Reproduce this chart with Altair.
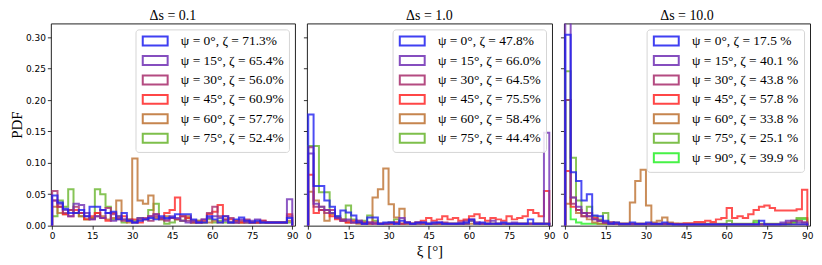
import altair as alt
import pandas as pd

# ---------------- data ----------------
BIN_WIDTH = 2  # degrees per histogram bin, bins from 0 to 90
psi_values = [0, 15, 30, 45, 60, 75, 90]
colors = ["#1f1ff0", "#7030b5", "#a82c6c", "#ff2626", "#bd7030", "#68b52c", "#26f026"]

panel_titles = ["Δs = 0.1", "Δs = 1.0", "Δs = 10.0"]
zeta_p1 = ["71.3%", "65.4%", "56.0%", "60.9%", "57.7%", "52.4%"]
zeta_p2 = ["47.8%", "66.0%", "64.5%", "75.5%", "58.4%", "44.4%"]
zeta_p3 = ["17.5 %", "40.1 %", "43.8 %", "57.8 %", "33.8 %", "25.1 %", "39.9 %"]

x_ticks = [0, 15, 30, 45, 60, 75, 90]
y_ticks = [0.0, 0.05, 0.10, 0.15, 0.20, 0.25, 0.30]

# ---- panel 1 : Δs = 0.1 ----
p1_psi0 = [0.048, 0.037, 0.027, 0.020, 0.020, 0.025, 0.015, 0.030, 0.030, 0.025,
           0.020, 0.022, 0.010, 0.020, 0.008, 0.005, 0.008, 0.010, 0.012, 0.010,
           0.015, 0.012, 0.013, 0.018, 0.018, 0.018, 0.010, 0.005, 0.005, 0.015,
           0.010, 0.005, 0.015, 0.005, 0.010, 0.013, 0.008, 0.005, 0.008, 0.005,
           0.005, 0.005, 0.005, 0.005, 0.012]
p1_psi15 = [0.040, 0.035, 0.025, 0.015, 0.035, 0.033, 0.020, 0.010, 0.015, 0.012,
            0.020, 0.008, 0.015, 0.010, 0.008, 0.005, 0.012, 0.010, 0.015, 0.018,
            0.012, 0.010, 0.015, 0.012, 0.008, 0.005, 0.008, 0.005, 0.010, 0.012,
            0.015, 0.012, 0.008, 0.005, 0.005, 0.010, 0.005, 0.008, 0.010, 0.005,
            0.005, 0.005, 0.005, 0.005, 0.042]
p1_psi30 = [0.055, 0.030, 0.020, 0.025, 0.030, 0.020, 0.015, 0.010, 0.015, 0.025,
            0.028, 0.018, 0.012, 0.008, 0.010, 0.005, 0.010, 0.012, 0.008, 0.015,
            0.010, 0.008, 0.012, 0.010, 0.015, 0.008, 0.005, 0.005, 0.010, 0.020,
            0.030, 0.015, 0.010, 0.012, 0.005, 0.008, 0.010, 0.005, 0.005, 0.008,
            0.005, 0.005, 0.005, 0.005, 0.015]
p1_psi45 = [0.040, 0.030, 0.018, 0.015, 0.025, 0.020, 0.010, 0.015, 0.020, 0.012,
            0.008, 0.020, 0.010, 0.015, 0.008, 0.010, 0.005, 0.010, 0.015, 0.018,
            0.012, 0.020, 0.025, 0.045, 0.015, 0.012, 0.008, 0.005, 0.008, 0.018,
            0.022, 0.033, 0.015, 0.010, 0.008, 0.005, 0.008, 0.005, 0.005, 0.008,
            0.005, 0.005, 0.005, 0.005, 0.018]
p1_psi60 = [0.030, 0.020, 0.018, 0.025, 0.020, 0.015, 0.010, 0.012, 0.020, 0.015,
            0.010, 0.012, 0.040, 0.010, 0.005, 0.107, 0.040, 0.035, 0.048, 0.012,
            0.010, 0.015, 0.012, 0.010, 0.008, 0.015, 0.005, 0.008, 0.005, 0.005,
            0.008, 0.005, 0.010, 0.005, 0.005, 0.005, 0.005, 0.005, 0.005, 0.005,
            0.005, 0.005, 0.005, 0.005, 0.008]
p1_psi75 = [0.015, 0.040, 0.030, 0.058, 0.020, 0.015, 0.010, 0.012, 0.058, 0.050,
            0.030, 0.010, 0.015, 0.005, 0.010, 0.008, 0.012, 0.010, 0.025, 0.035,
            0.010, 0.003, 0.005, 0.010, 0.008, 0.012, 0.005, 0.008, 0.005, 0.010,
            0.005, 0.008, 0.005, 0.005, 0.008, 0.005, 0.005, 0.005, 0.005, 0.005,
            0.005, 0.005, 0.005, 0.005, 0.005]

# ---- panel 2 : Δs = 1.0 ----
p2_psi0 = [0.177, 0.063, 0.063, 0.040, 0.030, 0.015, 0.024, 0.021, 0.016, 0.005,
           0.003, 0.013, 0.013, 0.003, 0.005, 0.005, 0.003, 0.008, 0.005, 0.003,
           0.005, 0.005, 0.003, 0.005, 0.005, 0.003, 0.003, 0.003, 0.003, 0.005,
           0.010, 0.003, 0.005, 0.003, 0.003, 0.003, 0.005, 0.003, 0.003, 0.003,
           0.003, 0.010, 0.003, 0.003, 0.003]
p2_psi15 = [0.115, 0.035, 0.030, 0.025, 0.020, 0.012, 0.008, 0.010, 0.005, 0.008,
            0.003, 0.005, 0.003, 0.003, 0.003, 0.005, 0.003, 0.012, 0.005, 0.003,
            0.003, 0.005, 0.003, 0.003, 0.005, 0.003, 0.003, 0.003, 0.005, 0.003,
            0.008, 0.005, 0.003, 0.003, 0.008, 0.003, 0.003, 0.003, 0.005, 0.003,
            0.003, 0.003, 0.003, 0.003, 0.148]
p2_psi30 = [0.125, 0.030, 0.025, 0.020, 0.025, 0.012, 0.010, 0.008, 0.005, 0.008,
            0.005, 0.003, 0.005, 0.003, 0.003, 0.003, 0.005, 0.003, 0.003, 0.003,
            0.005, 0.003, 0.003, 0.003, 0.003, 0.005, 0.003, 0.003, 0.003, 0.008,
            0.010, 0.005, 0.003, 0.003, 0.003, 0.003, 0.003, 0.003, 0.003, 0.003,
            0.003, 0.003, 0.003, 0.003, 0.003]
p2_psi45 = [0.081, 0.020, 0.025, 0.025, 0.015, 0.010, 0.008, 0.005, 0.008, 0.005,
            0.003, 0.005, 0.003, 0.003, 0.003, 0.003, 0.005, 0.003, 0.005, 0.003,
            0.005, 0.008, 0.012, 0.008, 0.010, 0.015, 0.010, 0.012, 0.008, 0.010,
            0.015, 0.018, 0.012, 0.008, 0.012, 0.010, 0.008, 0.015, 0.010, 0.012,
            0.015, 0.025, 0.020, 0.015, 0.055]
p2_psi60 = [0.054, 0.040, 0.030, 0.008, 0.018, 0.012, 0.008, 0.005, 0.005, 0.003,
            0.005, 0.003, 0.045, 0.058, 0.091, 0.034, 0.013, 0.027, 0.005, 0.003,
            0.003, 0.003, 0.003, 0.003, 0.003, 0.003, 0.003, 0.003, 0.003, 0.003,
            0.003, 0.003, 0.003, 0.003, 0.003, 0.003, 0.003, 0.003, 0.003, 0.003,
            0.003, 0.003, 0.003, 0.003, 0.003]
p2_psi75 = [0.127, 0.127, 0.053, 0.053, 0.020, 0.015, 0.010, 0.032, 0.010, 0.005,
            0.008, 0.016, 0.008, 0.003, 0.003, 0.005, 0.010, 0.003, 0.003, 0.003,
            0.003, 0.003, 0.003, 0.003, 0.003, 0.003, 0.003, 0.003, 0.003, 0.003,
            0.008, 0.003, 0.003, 0.003, 0.003, 0.003, 0.003, 0.003, 0.003, 0.003,
            0.003, 0.003, 0.003, 0.003, 0.003]

# ---- panel 3 : Δs = 10.0 ----
p3_psi0 = [0.304, 0.085, 0.071, 0.040, 0.050, 0.016, 0.015, 0.008, 0.003, 0.005,
           0.003, 0.003, 0.005, 0.003, 0.003, 0.005, 0.003, 0.003, 0.005, 0.003,
           0.002, 0.002, 0.002, 0.002, 0.002, 0.002, 0.002, 0.002, 0.002, 0.002,
           0.002, 0.002, 0.002, 0.002, 0.002, 0.002, 0.008, 0.002, 0.002, 0.002,
           0.002, 0.002, 0.002, 0.002, 0.002]
p3_psi15 = [0.400, 0.045, 0.030, 0.020, 0.015, 0.010, 0.008, 0.005, 0.005, 0.003,
            0.002, 0.002, 0.002, 0.002, 0.002, 0.002, 0.002, 0.002, 0.002, 0.002,
            0.002, 0.002, 0.002, 0.002, 0.002, 0.002, 0.002, 0.002, 0.002, 0.002,
            0.002, 0.002, 0.002, 0.002, 0.002, 0.002, 0.002, 0.002, 0.002, 0.002,
            0.005, 0.008, 0.008, 0.005, 0.005]
p3_psi30 = [0.200, 0.035, 0.025, 0.015, 0.020, 0.010, 0.008, 0.005, 0.003, 0.003,
            0.002, 0.002, 0.002, 0.002, 0.002, 0.002, 0.002, 0.002, 0.002, 0.002,
            0.002, 0.002, 0.002, 0.002, 0.002, 0.002, 0.002, 0.002, 0.002, 0.002,
            0.002, 0.002, 0.002, 0.002, 0.002, 0.002, 0.002, 0.002, 0.002, 0.002,
            0.002, 0.005, 0.008, 0.008, 0.005]
p3_psi45 = [0.087, 0.030, 0.025, 0.020, 0.015, 0.012, 0.008, 0.005, 0.005, 0.003,
            0.003, 0.003, 0.003, 0.003, 0.003, 0.003, 0.003, 0.003, 0.003, 0.003,
            0.003, 0.003, 0.004, 0.004, 0.006, 0.006, 0.008, 0.006, 0.010, 0.012,
            0.028, 0.012, 0.015, 0.012, 0.018, 0.025, 0.030, 0.032, 0.028, 0.024,
            0.024, 0.024, 0.024, 0.026, 0.057]
p3_psi60 = [0.035, 0.045, 0.020, 0.015, 0.010, 0.005, 0.003, 0.003, 0.003, 0.005,
            0.003, 0.003, 0.037, 0.071, 0.089, 0.032, 0.005, 0.008, 0.013, 0.005,
            0.003, 0.002, 0.002, 0.002, 0.002, 0.002, 0.002, 0.002, 0.002, 0.002,
            0.002, 0.002, 0.002, 0.002, 0.002, 0.002, 0.002, 0.002, 0.002, 0.002,
            0.002, 0.002, 0.002, 0.002, 0.002]
p3_psi75 = [0.246, 0.108, 0.040, 0.020, 0.030, 0.015, 0.010, 0.020, 0.005, 0.003,
            0.003, 0.003, 0.003, 0.003, 0.003, 0.003, 0.003, 0.003, 0.003, 0.003,
            0.003, 0.003, 0.003, 0.003, 0.003, 0.003, 0.003, 0.003, 0.003, 0.003,
            0.008, 0.003, 0.003, 0.003, 0.003, 0.008, 0.003, 0.003, 0.003, 0.003,
            0.003, 0.003, 0.005, 0.012, 0.012]
p3_psi90 = [0.200, 0.010, 0.005, 0.003, 0.003, 0.003, 0.003, 0.003, 0.003, 0.003,
            0.002, 0.002, 0.002, 0.002, 0.002, 0.002, 0.002, 0.002, 0.002, 0.002,
            0.002, 0.002, 0.002, 0.002, 0.002, 0.002, 0.002, 0.002, 0.002, 0.002,
            0.002, 0.002, 0.002, 0.002, 0.002, 0.005, 0.002, 0.002, 0.002, 0.002,
            0.002, 0.002, 0.005, 0.010, 0.010]

panels = [
    [p1_psi0, p1_psi15, p1_psi30, p1_psi45, p1_psi60, p1_psi75],
    [p2_psi0, p2_psi15, p2_psi30, p2_psi45, p2_psi60, p2_psi75],
    [p3_psi0, p3_psi15, p3_psi30, p3_psi45, p3_psi60, p3_psi75, p3_psi90],
]
zetas = [zeta_p1, zeta_p2, zeta_p3]

SERIF = "Liberation Serif"
PANEL_W = [245, 246, 247]


def step_rows(values, label):
    """Outline of a step histogram (matplotlib histtype='step')."""
    pts = [(0.0, 0.0)]
    for i, v in enumerate(values):
        pts.append((i * BIN_WIDTH, v))
        pts.append(((i + 1) * BIN_WIDTH, v))
    pts.append((len(values) * BIN_WIDTH, 0.0))
    return [{"xi": x, "pdf": y, "series": label, "ord": j} for j, (x, y) in enumerate(pts)]


def make_panel(k):
    series = panels[k]
    labels = [f"ψ = {psi_values[i]}°, ζ = {zetas[k][i]}" for i in range(len(series))]
    rows = []
    # draw later series first so that ψ = 0° ends on top
    for i in reversed(range(len(series))):
        rows += step_rows(series[i], labels[i])
    df = pd.DataFrame(rows)
    first = k == 0
    middle = k == 1
    x_axis = alt.Axis(values=x_ticks, format="d", labelFlush=False,
                      title="ξ [°]" if middle else None)
    y_axis = alt.Axis(values=y_ticks, format=".2f", labels=first,
                      title="PDF" if first else None)
    return (
        alt.Chart(df)
        .mark_line(strokeWidth=2, opacity=0.8, clip=True, strokeJoin="miter")
        .encode(
            x=alt.X("xi:Q", scale=alt.Scale(domain=[-0.5, 91], nice=False, zero=False), axis=x_axis),
            y=alt.Y("pdf:Q", scale=alt.Scale(domain=[0, 0.322], nice=False), axis=y_axis),
            color=alt.Color(
                "series:N",
                scale=alt.Scale(domain=labels, range=colors[: len(series)]),
                legend=alt.Legend(
                    title=None, orient="top-right", offset=6,
                    fillColor="rgba(255,255,255,0.85)", strokeColor="#d5d5d5",
                    cornerRadius=3, padding=5,
                    symbolType="M-2.5,-0.9L2.5,-0.9L2.5,0.9L-2.5,0.9Z", symbolSize=100,
                    symbolStrokeWidth=2, symbolFillColor="transparent", symbolOpacity=0.85,
                    symbolOffset=8,
                    labelFont=SERIF, labelFontSize=13.5, labelColor="black",
                    rowPadding=1.5, labelOffset=19, labelLimit=300,
                ),
            ),
            order="ord:Q",
        )
        .properties(
            width=PANEL_W[k], height=203,
            title=alt.TitleParams(panel_titles[k], font=SERIF, fontSize=14,
                                  fontWeight="normal", offset=0, color="black"),
        )
    )


chart = (
    alt.hconcat(make_panel(0), make_panel(1), make_panel(2), spacing=12, bounds="flush")
    .resolve_scale(color="independent")
    .properties(padding=0)
    .configure_view(stroke="#222222", strokeWidth=1)
    .configure_axis(
        domain=False, grid=False, tickSize=3.5, tickColor="black", tickWidth=0.8,
        labelFont="DejaVu Sans", labelFontSize=9, labelColor="black", labelPadding=2,
        titleFont=SERIF, titleFontSize=15, titleFontWeight="normal", titleColor="black",
    )
    .configure_axisY(titlePadding=1)
    .configure_axisX(titlePadding=3)
)

chart.save("out.html", embed_options={"renderer": "svg", "actions": False})
